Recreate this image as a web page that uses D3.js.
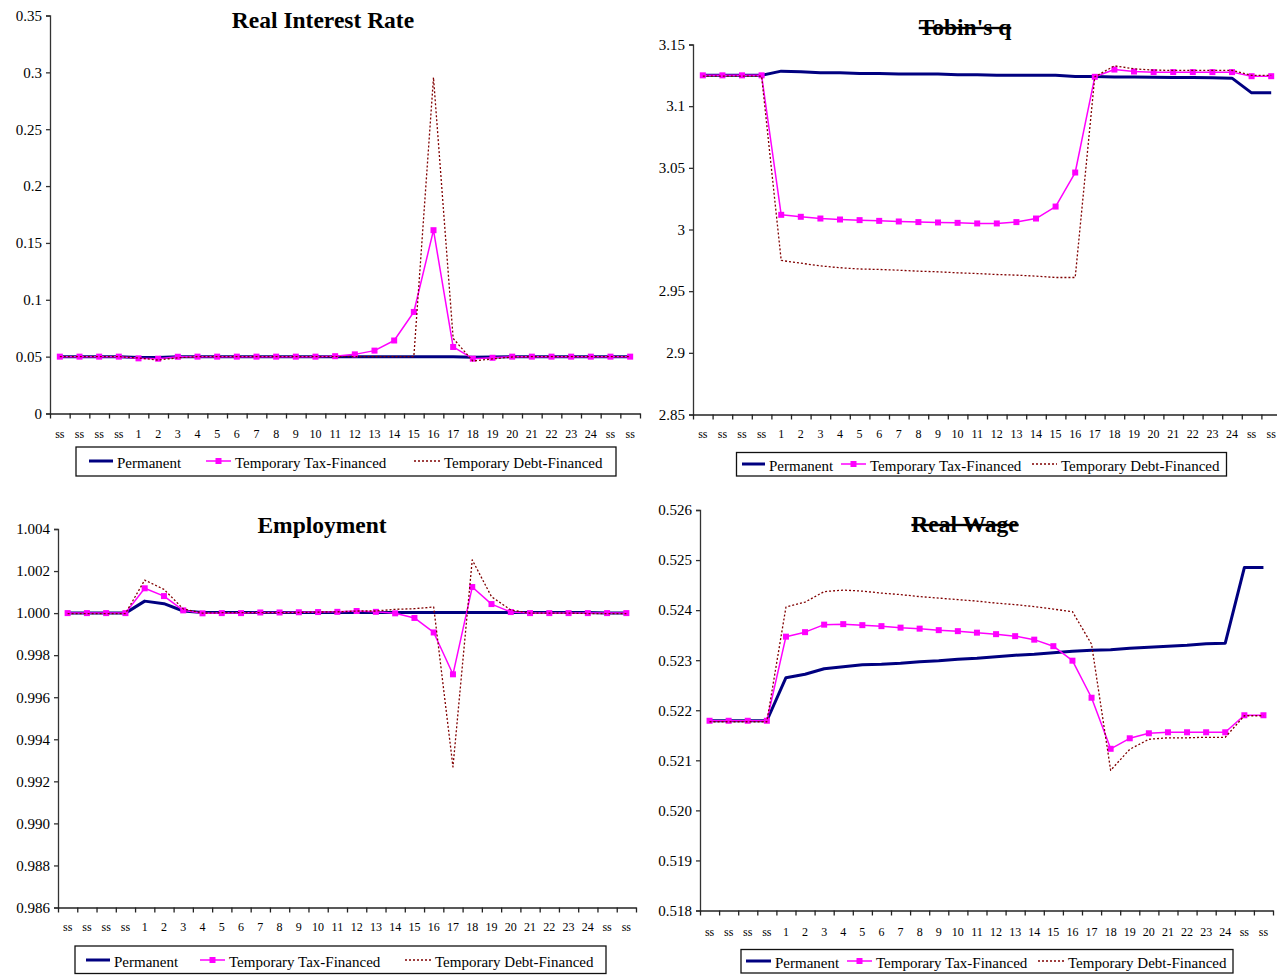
<!DOCTYPE html>
<html>
<head>
<meta charset="utf-8">
<script src="https://cdn.jsdelivr.net/npm/d3@7"></script>
<style>
  body { margin: 0; background: #fff; }
  svg { display: block; font-family: 'Liberation Serif', 'Times New Roman', serif; }
</style>
</head>
<body>
<svg id="chart" width="1277" height="975"></svg>
<script>
const periods = ['ss','ss','ss','ss','1','2','3','4','5','6','7','8','9','10','11','12','13','14','15','16','17','18','19','20','21','22','23','24','ss','ss']
const seriesNames = ['Permanent', 'Temporary Tax-Financed', 'Temporary Debt-Financed']

// Real Interest Rate
const rirPermanent = [0.05,0.05,0.05,0.05,0.0493,0.0493,0.0499,0.05,0.05,0.05,0.05,0.05,0.05,0.05,0.05,0.05,0.05,0.05,0.05,0.05,0.05,0.0495,0.0497,0.05,0.05,0.05,0.05,0.05,0.05,0.05]
const rirTax = [0.05,0.05,0.05,0.05,0.0485,0.0482,0.0499,0.05,0.05,0.05,0.05,0.05,0.05,0.05,0.0504,0.052,0.0553,0.0642,0.0893,0.1612,0.0585,0.0482,0.049,0.05,0.05,0.05,0.05,0.05,0.05,0.05]
const rirDebt = [0.05,0.05,0.05,0.05,0.0488,0.047,0.049,0.05,0.05,0.05,0.05,0.05,0.05,0.05,0.05,0.05,0.05,0.05,0.05,0.2955,0.066,0.0462,0.048,0.0497,0.05,0.05,0.05,0.05,0.05,0.05]

// Tobin's q
const tqPermanent = [3.125,3.125,3.125,3.125,3.1284,3.128,3.127,3.127,3.1265,3.1265,3.126,3.126,3.126,3.1255,3.1255,3.125,3.125,3.125,3.125,3.124,3.124,3.1236,3.1236,3.1235,3.1233,3.1232,3.123,3.1227,3.1108,3.1108]
const tqTax = [3.125,3.125,3.125,3.125,3.0119,3.0103,3.0089,3.0081,3.0076,3.007,3.0065,3.006,3.0057,3.0054,3.0049,3.0049,3.006,3.0089,3.0186,3.0462,3.1238,3.1297,3.1281,3.1276,3.1276,3.1276,3.1276,3.1276,3.1243,3.1243]
const tqDebt = [3.1243,3.1243,3.1243,3.1243,2.9749,2.9727,2.9705,2.969,2.968,2.9676,2.967,2.9662,2.9657,2.9649,2.9643,2.9635,2.963,2.9622,2.9611,2.9611,3.1238,3.1327,3.1303,3.1292,3.129,3.129,3.129,3.129,3.125,3.125]

// Employment
const empPermanent = [1.0,1.0,1.0,1.0,1.00057,1.00045,1.0001,1.00003,1.00003,1.00003,1.00003,1.00003,1.00003,1.00003,1.00003,1.00003,1.00003,1.00003,1.00003,1.00003,1.00003,1.00003,1.00003,1.00003,1.00003,1.00003,1.00003,1.00003,1.0,1.0]
const empTax = [1.0,1.0,1.0,1.0,1.00118,1.00081,1.00013,0.99999,1.0,1.0,1.00003,1.00003,1.00004,1.00005,1.00006,1.0001,1.00006,0.99999,0.99977,0.99908,0.99709,1.00124,1.00043,1.00005,1.0,1.0,1.0,1.0,1.0,1.0]
const empDebt = [0.99998,0.99998,0.99998,0.99998,1.00157,1.00113,1.0002,1.0,1.00002,1.00002,1.00002,1.00002,1.00003,1.00005,1.00006,1.0001,1.0001,1.00018,1.00021,1.00029,0.99269,1.00253,1.00078,1.00015,1.0,1.0,1.0,0.99998,0.99998,0.99998]

// Real Wage
const rwPermanent = [0.52179,0.52179,0.52179,0.52179,0.52265,0.52272,0.52283,0.52287,0.52291,0.52292,0.52294,0.52297,0.52299,0.52302,0.52304,0.52307,0.5231,0.52312,0.52315,0.52318,0.5232,0.52321,0.52324,0.52326,0.52328,0.5233,0.52333,0.52334,0.52485,0.52485]
const rwTax = [0.52179,0.52179,0.52179,0.52179,0.52347,0.52356,0.52371,0.52372,0.5237,0.52368,0.52365,0.52363,0.5236,0.52358,0.52355,0.52352,0.52348,0.52341,0.52328,0.52299,0.52225,0.52123,0.52144,0.52154,0.52156,0.52156,0.52156,0.52156,0.5219,0.5219]
const rwDebt = [0.52177,0.52177,0.52177,0.52177,0.52406,0.52416,0.52437,0.5244,0.52438,0.52434,0.52431,0.52427,0.52424,0.52421,0.52418,0.52414,0.52411,0.52407,0.52402,0.52397,0.52332,0.5208,0.52122,0.52142,0.52145,0.52145,0.52146,0.52146,0.52189,0.52189]

const rirTicks = [0, 0.05, 0.1, 0.15, 0.2, 0.25, 0.3, 0.35]
const rirTickLabels = ['0','0.05','0.1','0.15','0.2','0.25','0.3','0.35']
const tqTicks = [2.85, 2.9, 2.95, 3, 3.05, 3.1, 3.15]
const tqTickLabels = ['2.85','2.9','2.95','3','3.05','3.1','3.15']
const empTicks = [0.986, 0.988, 0.99, 0.992, 0.994, 0.996, 0.998, 1.0, 1.002, 1.004]
const empTickLabels = ['0.986','0.988','0.990','0.992','0.994','0.996','0.998','1.000','1.002','1.004']
const rwTicks = [0.518, 0.519, 0.52, 0.521, 0.522, 0.523, 0.524, 0.525, 0.526]
const rwTickLabels = ['0.518','0.519','0.520','0.521','0.522','0.523','0.524','0.525','0.526']

const svg = d3.select('#chart')

const panels = [
  {
    title: 'Real Interest Rate', strike: false, titleX: 323, titleY: 28,
    left: 50, right: 640, top: 15.5, bottom: 413.5, labelY: 437,
    ticks: rirTicks, tickLabels: rirTickLabels,
    series: [rirPermanent, rirTax, rirDebt],
    legend: { x: 76, y: 447, w: 540, h: 29, cy: 464, items: [89, 117, 206, 235, 414, 444] },
  },
  {
    title: "Tobin's q", strike: true, titleX: 965, titleY: 35,
    left: 693, right: 1281, top: 44.5, bottom: 414.5, labelY: 437,
    ticks: tqTicks, tickLabels: tqTickLabels,
    series: [tqPermanent, tqTax, tqDebt],
    legend: { x: 736.5, y: 452.5, w: 490, h: 23.5, cy: 467, items: [742, 769, 841, 870, 1032, 1061] },
  },
  {
    title: 'Employment', strike: false, titleX: 322, titleY: 533,
    left: 58, right: 636, top: 529, bottom: 907.5, labelY: 930,
    ticks: empTicks, tickLabels: empTickLabels,
    series: [empPermanent, empTax, empDebt],
    legend: { x: 75, y: 946, w: 531, h: 27.5, cy: 963, items: [86, 114, 200, 229, 405, 435] },
  },
  {
    title: 'Real Wage', strike: true, titleX: 965, titleY: 532,
    left: 700, right: 1273, top: 510, bottom: 910.5, labelY: 935,
    ticks: rwTicks, tickLabels: rwTickLabels,
    series: [rwPermanent, rwTax, rwDebt],
    legend: { x: 741, y: 949.5, w: 492, h: 23.5, cy: 964, items: [746, 775, 847, 876, 1038, 1068] },
  },
]

const styles = [
  { color: '#000080', width: 3, dash: null, marker: false },
  { color: '#ff00ff', width: 1.5, dash: null, marker: true },
  { color: '#800000', width: 1.3, dash: '2,2', marker: false },
]

function drawPanel(p) {
  const g = svg.append('g')
  const idx = d3.range(periods.length)

  const x = d3.scaleBand().domain(idx).range([p.left, p.right]).padding(0)
  const xEdge = d3.scaleLinear().domain([0, periods.length]).range([p.left, p.right])
  const y = d3.scaleLinear()
    .domain([p.ticks[0], p.ticks[p.ticks.length - 1]])
    .range([p.bottom, p.top])

  // y axis
  const yAxis = g.append('g')
    .attr('transform', `translate(${p.left},0)`)
    .call(d3.axisLeft(y).tickValues(p.ticks).tickFormat((d, i) => p.tickLabels[i]).tickSize(4).tickPadding(4))
  yAxis.selectAll('text').style('font-size', '15px').style('font-family', 'Liberation Serif').attr('fill', '#000')
  yAxis.selectAll('line, path').attr('stroke', '#333').attr('stroke-width', 1.3)

  // x tick marks at category boundaries
  const xTicks = g.append('g')
    .attr('transform', `translate(0,${p.bottom})`)
    .call(d3.axisBottom(xEdge).tickValues(d3.range(periods.length + 1)).tickFormat('').tickSize(5).tickSizeOuter(0))
  xTicks.selectAll('line, path').attr('stroke', '#222').attr('stroke-width', 1.3)

  // x category labels
  const xLabels = g.append('g')
    .attr('transform', `translate(0,${p.labelY - 8})`)
    .call(d3.axisBottom(x).tickFormat((d) => periods[d]).tickSize(0).tickPadding(0))
  xLabels.select('.domain').remove()
  xLabels.selectAll('text').style('font-size', '12px').style('font-family', 'Liberation Serif').attr('fill', '#000')

  // title
  g.append('text')
    .attr('x', p.titleX)
    .attr('y', p.titleY)
    .attr('text-anchor', 'middle')
    .style('font-size', '23.5px')
    .style('font-weight', 'bold')
    .style('text-decoration', p.strike ? 'line-through' : 'none')
    .text(p.title)

  const line = d3.line()
    .x((d, i) => x(i) + x.bandwidth() / 2)
    .y((d) => y(d))

  p.series.forEach((vals, si) => {
    const s = styles[si]
    g.append('path')
      .datum(vals)
      .attr('fill', 'none')
      .attr('stroke', s.color)
      .attr('stroke-width', s.width)
      .attr('stroke-dasharray', s.dash)
      .attr('stroke-linejoin', 'round')
      .attr('d', line)
    if (s.marker) {
      g.selectAll(null)
        .data(vals)
        .enter()
        .append('rect')
        .attr('x', (d, i) => x(i) + x.bandwidth() / 2 - 3)
        .attr('y', (d) => y(d) - 3)
        .attr('width', 6)
        .attr('height', 6)
        .attr('fill', s.color)
    }
  })

  // legend
  const lg = p.legend
  g.append('rect')
    .attr('x', lg.x).attr('y', lg.y).attr('width', lg.w).attr('height', lg.h)
    .attr('fill', '#fff').attr('stroke', '#111').attr('stroke-width', 1.3)
  seriesNames.forEach((name, si) => {
    const s = styles[si]
    const lx = lg.items[si * 2]
    const tx = lg.items[si * 2 + 1]
    const len = tx - lx - 4
    g.append('line')
      .attr('x1', lx).attr('x2', lx + len)
      .attr('y1', lg.cy - 3).attr('y2', lg.cy - 3)
      .attr('stroke', s.color)
      .attr('stroke-width', s.width)
      .attr('stroke-dasharray', s.dash)
    if (s.marker) {
      g.append('rect')
        .attr('x', lx + len / 2 - 3).attr('y', lg.cy - 6)
        .attr('width', 6).attr('height', 6)
        .attr('fill', s.color)
    }
    g.append('text')
      .attr('x', tx)
      .attr('y', lg.cy + 4)
      .style('font-size', '15px')
      .text(name)
  })
}

panels.forEach(drawPanel)
</script>
</body>
</html>
